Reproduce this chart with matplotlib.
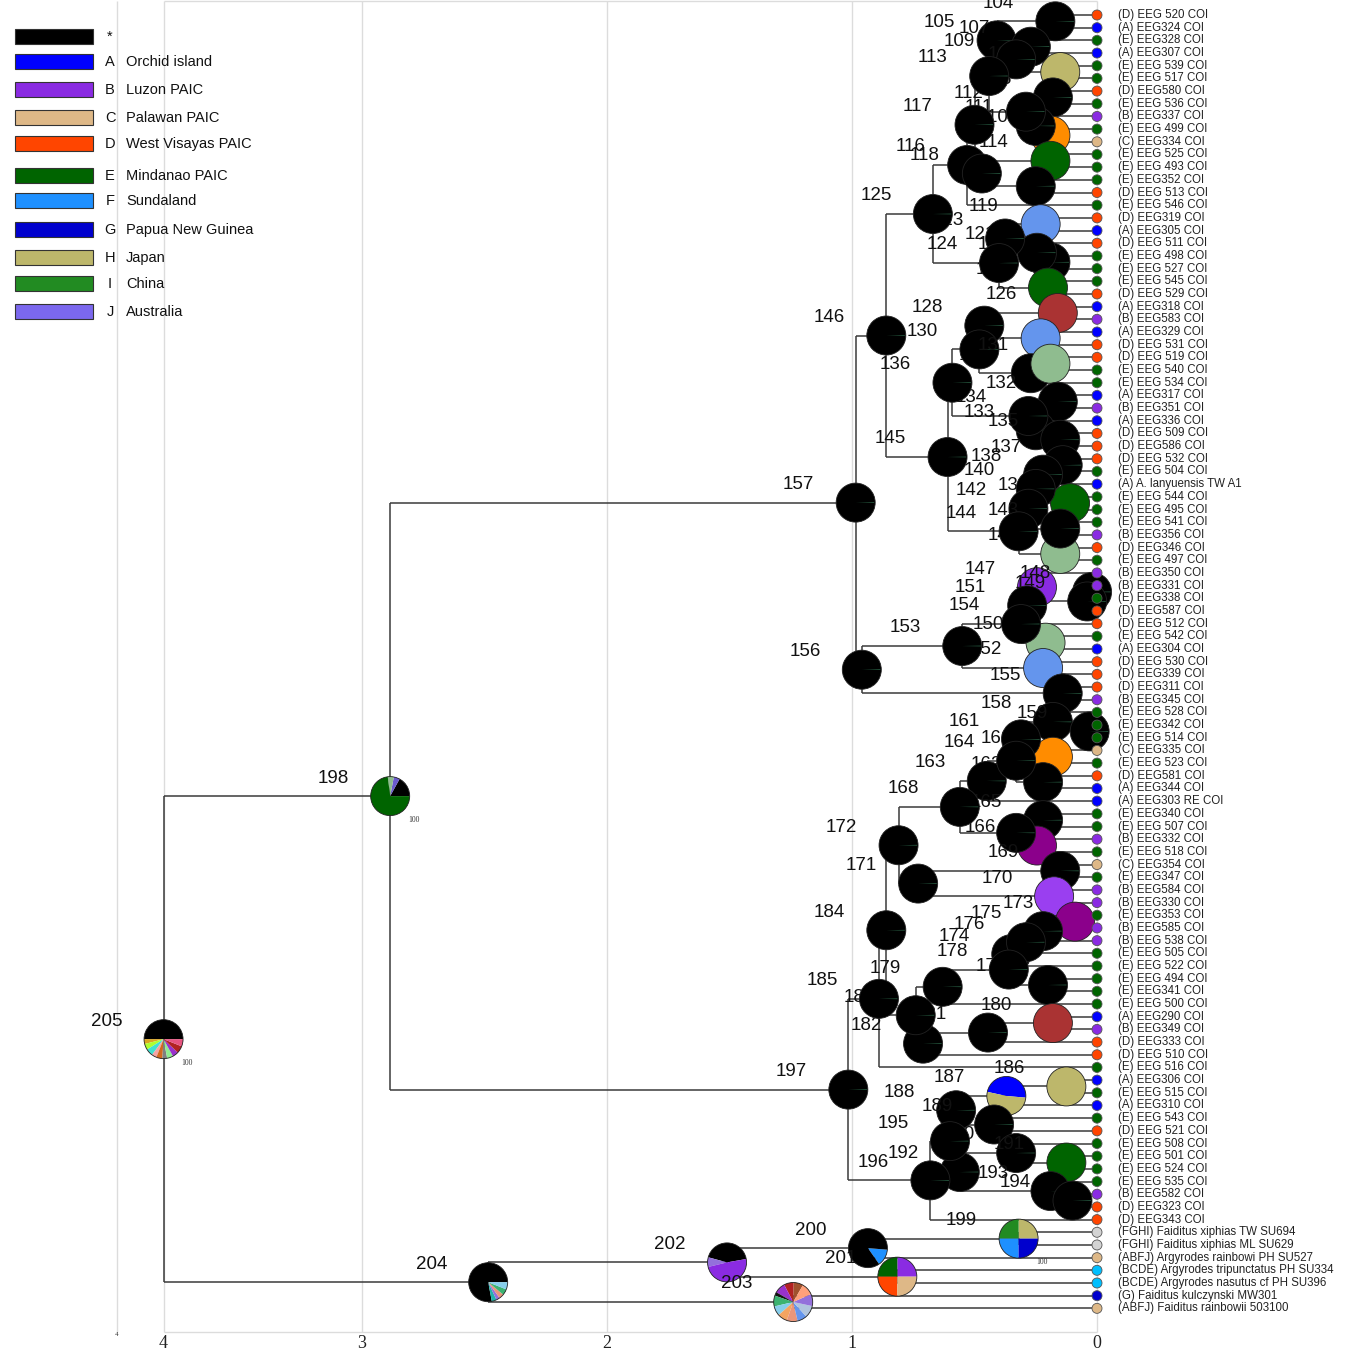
import matplotlib
matplotlib.use("Agg")
import matplotlib.pyplot as plt
from matplotlib.patches import Wedge, Circle, Rectangle
from matplotlib.transforms import ScaledTranslation, blended_transform_factory

plt.rcParams['font.family'] = ['Liberation Sans', 'DejaVu Sans']

# ---------------------------------------------------------------- data
TIP_LABELS = [
    "(D) EEG 520 COI", "(A) EEG324 COI", "(E) EEG328 COI", "(A) EEG307 COI",
    "(E) EEG 539 COI", "(E) EEG 517 COI", "(D) EEG580 COI", "(E) EEG 536 COI",
    "(B) EEG337 COI", "(E) EEG 499 COI", "(C) EEG334 COI", "(E) EEG 525 COI",
    "(E) EEG 493 COI", "(E) EEG352 COI", "(D) EEG 513 COI", "(E) EEG 546 COI",
    "(D) EEG319 COI", "(A) EEG305 COI", "(D) EEG 511 COI", "(E) EEG 498 COI",
    "(E) EEG 527 COI", "(E) EEG 545 COI", "(D) EEG 529 COI", "(A) EEG318 COI",
    "(B) EEG583 COI", "(A) EEG329 COI", "(D) EEG 531 COI", "(D) EEG 519 COI",
    "(E) EEG 540 COI", "(E) EEG 534 COI", "(A) EEG317 COI", "(B) EEG351 COI",
    "(A) EEG336 COI", "(D) EEG 509 COI", "(D) EEG586 COI", "(D) EEG 532 COI",
    "(E) EEG 504 COI", "(A) A. lanyuensis TW A1", "(E) EEG 544 COI", "(E) EEG 495 COI",
    "(E) EEG 541 COI", "(B) EEG356 COI", "(D) EEG346 COI", "(E) EEG 497 COI",
    "(B) EEG350 COI", "(B) EEG331 COI", "(E) EEG338 COI", "(D) EEG587 COI",
    "(D) EEG 512 COI", "(E) EEG 542 COI", "(A) EEG304 COI", "(D) EEG 530 COI",
    "(D) EEG339 COI", "(D) EEG311 COI", "(B) EEG345 COI", "(E) EEG 528 COI",
    "(E) EEG342 COI", "(E) EEG 514 COI", "(C) EEG335 COI", "(E) EEG 523 COI",
    "(D) EEG581 COI", "(A) EEG344 COI", "(A) EEG303 RE COI", "(E) EEG340 COI",
    "(E) EEG 507 COI", "(B) EEG332 COI", "(E) EEG 518 COI", "(C) EEG354 COI",
    "(E) EEG347 COI", "(B) EEG584 COI", "(B) EEG330 COI", "(E) EEG353 COI",
    "(B) EEG585 COI", "(B) EEG 538 COI", "(E) EEG 505 COI", "(E) EEG 522 COI",
    "(E) EEG 494 COI", "(E) EEG341 COI", "(E) EEG 500 COI", "(A) EEG290 COI",
    "(B) EEG349 COI", "(D) EEG333 COI", "(D) EEG 510 COI", "(E) EEG 516 COI",
    "(A) EEG306 COI", "(E) EEG 515 COI", "(A) EEG310 COI", "(E) EEG 543 COI",
    "(D) EEG 521 COI", "(E) EEG 508 COI", "(E) EEG 501 COI", "(E) EEG 524 COI",
    "(E) EEG 535 COI", "(B) EEG582 COI", "(D) EEG323 COI", "(D) EEG343 COI",
    "(FGHI) Faiditus xiphias TW SU694", "(FGHI) Faiditus xiphias ML SU629",
    "(ABFJ) Argyrodes rainbowi PH SU527", "(BCDE) Argyrodes tripunctatus PH SU334",
    "(BCDE) Argyrodes nasutus cf PH SU396", "(G) Faiditus kulczynski MW301",
    "(ABFJ) Faiditus rainbowii 503100",
]

TIP_AREA_COLORS = {
    "A": "#0000ff", "B": "#8a2be2", "C": "#deb887", "D": "#ff4500",
    "E": "#006400", "G": "#0000cd", "FGHI": "#d3d3d3", "ABFJ": "#deb887",
    "BCDE": "#00bfff",
}

# internal node ages (time units before present)
NODE_AGE = {
    104: 0.17, 105: 0.41, 106: 0.15, 107: 0.27, 108: 0.18, 109: 0.33,
    110: 0.19, 111: 0.25, 112: 0.29, 113: 0.44, 114: 0.19, 115: 0.25,
    116: 0.53, 117: 0.50, 118: 0.47, 119: 0.23, 120: 0.19, 121: 0.245,
    122: 0.20, 123: 0.375, 124: 0.40, 125: 0.67, 126: 0.16, 127: 0.23,
    128: 0.46, 129: 0.27, 130: 0.48, 131: 0.19, 132: 0.16, 133: 0.25,
    134: 0.28, 135: 0.15, 136: 0.59, 137: 0.14, 138: 0.22, 139: 0.11,
    140: 0.25, 141: 0.15, 142: 0.28, 143: 0.15, 144: 0.32, 145: 0.61,
    146: 0.86, 147: 0.245, 148: 0.02, 149: 0.04, 150: 0.21, 151: 0.285,
    152: 0.22, 153: 0.55, 154: 0.31, 155: 0.14, 156: 0.96, 157: 0.985,
    158: 0.18, 159: 0.03, 160: 0.18, 161: 0.31, 162: 0.22, 163: 0.45,
    164: 0.33, 165: 0.22, 166: 0.245, 167: 0.33, 168: 0.56, 169: 0.15,
    170: 0.175, 171: 0.73, 172: 0.81, 173: 0.09, 174: 0.35, 175: 0.22,
    176: 0.29, 177: 0.20, 178: 0.36, 179: 0.63, 180: 0.18, 181: 0.445,
    182: 0.71, 183: 0.74, 184: 0.86, 185: 0.89, 186: 0.125, 187: 0.37,
    188: 0.575, 189: 0.42, 190: 0.33, 191: 0.125, 192: 0.56, 193: 0.19,
    194: 0.10, 195: 0.60, 196: 0.68, 197: 1.015, 198: 2.885, 199: 0.32,
    200: 0.935, 201: 0.815, 202: 1.51, 203: 1.24, 204: 2.485, 205: 3.81,
}

# children of each internal node (ints < 103 are tip indices)
NODE_CHILDREN = {
    104: (0, 1), 107: (2, 3), 106: (4, 5), 109: (107, 106), 105: (104, 109),
    108: (6, 7), 110: (9, 10), 111: (8, 110), 112: (108, 111), 113: (105, 112),
    114: (11, 12), 115: (13, 14), 118: (114, 115), 117: (113, 118),
    116: (117, 15), 119: (16, 17), 120: (19, 20), 121: (18, 120),
    123: (119, 121), 122: (21, 22), 124: (123, 122), 125: (116, 124),
    126: (23, 24), 127: (25, 26), 128: (126, 127), 131: (27, 28),
    129: (131, 29), 130: (128, 129), 132: (30, 31), 135: (33, 34),
    133: (32, 135), 134: (132, 133), 136: (130, 134), 137: (35, 36),
    138: (137, 37), 139: (38, 39), 140: (138, 139), 143: (40, 41),
    142: (140, 143), 141: (42, 43), 144: (142, 141), 145: (136, 144),
    146: (125, 145), 148: (45, 46), 149: (148, 47), 147: (44, 149),
    151: (147, 48), 150: (49, 50), 154: (151, 150), 152: (51, 52),
    153: (154, 152), 155: (53, 54), 156: (153, 155), 157: (146, 156),
    159: (56, 57), 158: (55, 159), 160: (58, 59), 161: (158, 160),
    162: (60, 61), 164: (161, 162), 163: (164, 62), 165: (63, 64),
    166: (65, 66), 167: (165, 166), 168: (163, 167), 169: (67, 68),
    170: (69, 70), 171: (169, 170), 172: (168, 171), 173: (71, 72),
    175: (173, 73), 176: (175, 74), 174: (176, 75), 177: (76, 77),
    178: (174, 177), 179: (178, 78), 180: (79, 80), 181: (180, 81),
    182: (181, 82), 183: (179, 182), 184: (172, 183), 185: (184, 83),
    186: (84, 85), 187: (186, 86), 189: (87, 88), 188: (187, 189),
    191: (90, 91), 190: (89, 191), 194: (93, 94), 193: (92, 194),
    192: (190, 193), 195: (188, 192), 196: (195, 95), 197: (185, 196),
    198: (157, 197), 199: (96, 97), 200: (199, 98), 201: (99, 100),
    202: (200, 201), 203: (101, 102), 204: (202, 203), 205: (198, 204),
}

# ancestral-area pies: node -> colours / fractions / start angle; others black
PIE_COLORS = {
    106: ["#bdb76b"], 110: ["#ff8c00"], 114: ["#006400"], 119: ["#6495ed"],
    122: ["#006400"], 126: ["#aa3333"], 127: ["#6495ed"], 131: ["#8fbc8f"],
    139: ["#006400"], 141: ["#8fbc8f"], 147: ["#8a2be2"], 150: ["#8fbc8f"],
    152: ["#6495ed"], 160: ["#ff8c00"], 166: ["#8b008b"], 170: ["#9a3ff0"],
    173: ["#8b008b"], 180: ["#aa3333"], 186: ["#bdb76b"], 191: ["#006400"],
    187: ["#0000ff", "#bdb76b"],
    199: ["#bdb76b", "#228b22", "#1e90ff", "#0000cd"],
    200: ["#1e90ff", "#000000"],
    201: ["#8a2be2", "#006400", "#ff4500", "#deb887"],
    202: ["#000000", "#9370db", "#8a2be2"],
    203: ["#a0522d", "#b22222", "#9932cc", "#111111", "#3cb371", "#87ceeb",
          "#f4a460", "#e9967a", "#6495ed", "#b0c4de", "#9370db", "#ffa07a"],
    204: ["#000000", "#20b2aa", "#9370db", "#e9967a", "#3cb371", "#87ceeb"],
    198: ["#000000", "#6a5acd", "#8fbc8f", "#006400"],
    205: ["#000000", "#daa520", "#adff2f", "#40e0d0", "#f4a4a4", "#d2691e",
          "#808080", "#90ee90", "#9932cc", "#b22222", "#e75480"],
}
PIE_FRACS = {
    187: [0.48, 0.52],
    199: [0.25, 0.25, 0.25, 0.25],
    200: [0.14, 0.86],
    201: [0.25, 0.25, 0.25, 0.25],
    202: [0.43, 0.08, 0.49],
    203: [0.08, 0.08, 0.09, 0.03, 0.09, 0.08, 0.08, 0.09, 0.08, 0.10, 0.10, 0.10],
    204: [0.78, 0.04, 0.03, 0.04, 0.05, 0.06],
    198: [0.17, 0.05, 0.05, 0.73],
    205: [0.50, 0.04, 0.05, 0.06, 0.04, 0.05, 0.04, 0.05, 0.05, 0.06, 0.06],
}
PIE_START = {187: -5, 200: -55, 202: 10, 203: 60, 204: 0, 199: 0, 201: 0}

SUPPORT_LABELS = {198: "100", 205: "100", 199: "100"}

LEGEND_KEYS = ["*", "A", "B", "C", "D", "E", "F", "G", "H", "I", "J"]
LEGEND_NAMES = ["", "Orchid island", "Luzon PAIC", "Palawan PAIC",
                "West Visayas PAIC", "Mindanao PAIC", "Sundaland",
                "Papua New Guinea", "Japan", "China", "Australia"]
LEGEND_COLORS = ["#000000", "#0000ff", "#8a2be2", "#deb887", "#ff4500",
                 "#006400", "#1e90ff", "#0000cd", "#bdb76b", "#228b22",
                 "#7b68ee"]

ROOT = 205
GRID_AGES = [4, 3, 2, 1, 0]
AXIS_TICK_AGES = [NODE_AGE[ROOT], 3, 2, 1, 0]
AXIS_TICK_LABELS = ["4", "3", "2", "1", "0"]

# ---------------------------------------------------------------- layout
W, H, DPI = 1353, 1357, 100
PX_PER_AGE = 245.0
X0_PX = 1097.0          # pixel column of age 0
TIP0_PX, TIP_STEP_PX = 15.0, 12.68
PIE_R = 0.195           # inches
TIP_R = 0.05

fig = plt.figure(figsize=(W / DPI, H / DPI), dpi=DPI)
ax = fig.add_axes([0, 0, 1, 1])
ax.set_xlim(X0_PX / PX_PER_AGE, (X0_PX - W) / PX_PER_AGE)
ax.set_ylim((H - TIP0_PX) / TIP_STEP_PX, -TIP0_PX / TIP_STEP_PX)
ax.axis("off")
ax.set_autoscale_on(False)

n_tips = len(TIP_LABELS)


def age(n):
    return 0.0 if n < n_tips else NODE_AGE[n]


ypos = {}


def node_y(n):
    if n < n_tips:
        return float(n)
    if n not in ypos:
        ys = [node_y(c) for c in NODE_CHILDREN[n]]
        ypos[n] = 0.5 * (min(ys) + max(ys))
    return ypos[n]


node_y(ROOT)

# frame and grid
y_top = -TIP0_PX / TIP_STEP_PX + 0.08
y_bot = (1332 - TIP0_PX) / TIP_STEP_PX
grid_kw = dict(color="#dcdcdc", lw=1.0, zorder=0)
ax.vlines(GRID_AGES + [NODE_AGE[ROOT]], y_top, y_bot, **grid_kw)
ax.hlines([y_top, y_bot], NODE_AGE[ROOT], 0, **grid_kw)

# branches
line_kw = dict(color="#3a3a3a", lw=1.1, zorder=1)
for n, kids in NODE_CHILDREN.items():
    ys = [node_y(c) for c in kids]
    ax.vlines(age(n), min(ys), max(ys), **line_kw)
    for c in kids:
        ax.hlines(node_y(c), age(n), age(c), **line_kw)


def place(x, y):
    return fig.dpi_scale_trans + ScaledTranslation(x, y, ax.transData)


def draw_pie(x, y, colors, fracs, start, z):
    tr = place(x, y)
    th = start
    for c, f in zip(colors, fracs):
        ax.add_patch(Wedge((0, 0), PIE_R, th, th + 360 * f, facecolor=c,
                           edgecolor="none", transform=tr, zorder=z))
        th += 360 * f
    ax.add_patch(Circle((0, 0), PIE_R, fill=False, edgecolor="#222222",
                        lw=0.6, transform=tr, zorder=z))


# node pies and numbers, drawn in node order
for k, n in enumerate(sorted(NODE_CHILDREN)):
    x, y = age(n), node_y(n)
    z = 2 + k * 0.002
    cols = PIE_COLORS.get(n, ["#000000"])
    fr = PIE_FRACS.get(n, [1.0 / len(cols)] * len(cols))
    draw_pie(x, y, cols, fr, PIE_START.get(n, 0), z)
    if n not in PIE_COLORS:
        ax.add_patch(Wedge((0, 0), PIE_R * 0.95, -1, 1.2, facecolor="#2f6f4f",
                           edgecolor="none", transform=place(x, y), zorder=z))
    ax.annotate(str(n), (x, y), xytext=(-41, 13), textcoords="offset points",
                ha="center", va="center", fontsize=13.5, color="#111111",
                zorder=z + 0.001)
    if n in SUPPORT_LABELS:
        ax.annotate(SUPPORT_LABELS[n], (x, y), xytext=(17, -17),
                    textcoords="offset points", ha="center", va="center",
                    fontsize=5.5, family="Liberation Serif", color="#333333",
                    zorder=z + 0.001)

# tips
for i, lab in enumerate(TIP_LABELS):
    area = lab[1:lab.index(")")]
    ax.add_patch(Circle((0, 0), TIP_R, facecolor=TIP_AREA_COLORS[area],
                        edgecolor="#555555", lw=0.6, transform=place(0, i),
                        zorder=10))
    ax.annotate(lab, (0, i), xytext=(15, 0), textcoords="offset points",
                ha="left", va="center", fontsize=8.3, color="#222222",
                zorder=10)

# time axis numbers
tb = blended_transform_factory(ax.transData, ax.transAxes)
for a, t in zip(AXIS_TICK_AGES, AXIS_TICK_LABELS):
    ax.text(a, 1 - 1343 / H, t, transform=tb, ha="center", va="center",
            fontsize=13, family="Liberation Serif", color="#222222")
ax.text(GRID_AGES[0], 1 - 1335 / H, "4", transform=tb, ha="center",
        va="center", fontsize=5, family="Liberation Serif", color="#333333")

# legend
LEGEND_ROW_PX = [36, 61, 89, 117, 143, 175, 200, 229, 257, 283, 311]
for yk, key, name, col in zip(LEGEND_ROW_PX, LEGEND_KEYS, LEGEND_NAMES,
                              LEGEND_COLORS):
    fig.add_artist(Rectangle((15 / W, 1 - (yk + 7.5) / H), 78 / W, 15 / H,
                             facecolor=col, edgecolor="#333333", lw=0.8,
                             transform=fig.transFigure))
    fig.text(110 / W, 1 - (yk + 1) / H, key, ha="center", va="center",
             fontsize=10.5, color="#111111")
    if name:
        fig.text(126 / W, 1 - (yk + 1) / H, name, ha="left", va="center",
                 fontsize=10.5, color="#111111")

fig.savefig("out.png", dpi=DPI, facecolor="white")
